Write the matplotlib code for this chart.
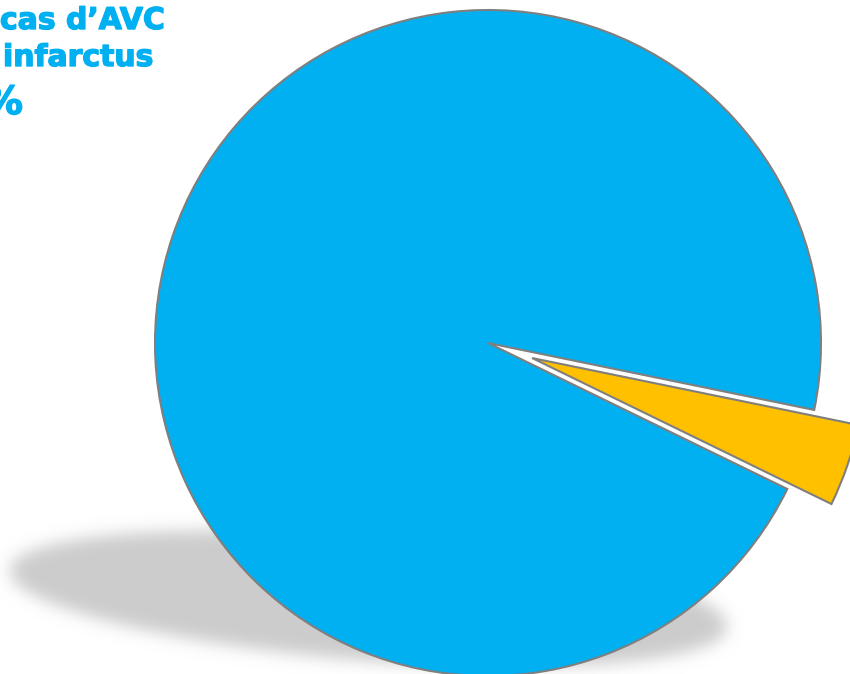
import numpy as np
import matplotlib
matplotlib.use('Agg')
from matplotlib import pyplot as plt
from matplotlib import patheffects as pe

# slice shares (percent)
labels = ['infarctus', 'autres']
shares = [4, 96]
colours = ['#FFC000', '#00B0F0']
pull_out = [0.14, 0.0]   # as a fraction of the radius

title_lines = ['cas d’AVC', 'infarctus', '%']

W, H = 850, 674
R = 333
fig = plt.figure(figsize=(W / 100, H / 100), dpi=100)
ax = fig.add_axes([0, 0, 1, 1])
ax.set_xlim(0, W)
ax.set_ylim(0, H)
ax.set_aspect('equal')
ax.axis('off')

# soft grey shadow under the pie (slightly tilted ellipse, blurred)
yy, xx = np.mgrid[0:H, 0:W]
cx, cy, a, b = 368, 598, 360, 62
t = np.arctan2(57, 715)
u = ((xx - cx) * np.cos(t) + (yy - cy) * np.sin(t)) / a
v = (-(xx - cx) * np.sin(t) + (yy - cy) * np.cos(t)) / b
mask = (u ** 2 + v ** 2 <= 1).astype(float)
k = np.arange(-24, 25)
kern = np.exp(-0.5 * (k / 8.0) ** 2)
kern /= kern.sum()
mask = np.apply_along_axis(lambda r: np.convolve(r, kern, mode='same'), 1, mask)
mask = np.apply_along_axis(lambda c: np.convolve(c, kern, mode='same'), 0, mask)
shadow = np.zeros((H, W, 4))
shadow[..., :3] = 0.8
shadow[..., 3] = mask
ax.imshow(shadow, extent=(0, W, 0, H), origin='upper', zorder=0, interpolation='bilinear')

# the pie itself
wedges, _ = ax.pie(shares, colors=colours, explode=[p * R for p in pull_out],
                   startangle=-26, counterclock=True, center=(488, H - 343), radius=R,
                   wedgeprops=dict(edgecolor='#7F7F7F', linewidth=1.5))
for w in wedges:
    w.set_zorder(2)
ax.set_xlim(0, W)
ax.set_ylim(0, H)

# title, cut at the left edge as in the source
tx = [0, 3, -16]
ty = [29, 66, 114]
ts = [21.5, 21.5, 28]
for s, x, y, fs in zip(title_lines, tx, ty, ts):
    ax.text(x, H - y, s, color='#00B0F0', fontsize=fs, fontweight='bold',
            family='DejaVu Sans', va='baseline', ha='left', zorder=3, clip_on=False,
            path_effects=[pe.withStroke(linewidth=1.0, foreground='#00B0F0')])

fig.savefig('out.png', dpi=100)
